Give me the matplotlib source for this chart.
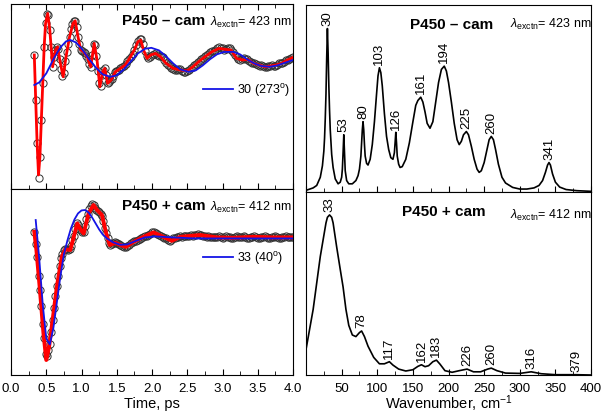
import matplotlib
matplotlib.use("Agg")
import numpy as np
import matplotlib.pyplot as plt
from matplotlib.ticker import MultipleLocator

plt.rcParams['font.family'] = ['Liberation Sans', 'DejaVu Sans']
plt.rcParams['mathtext.fontset'] = 'custom'
plt.rcParams['mathtext.rm'] = 'Liberation Sans'
plt.rcParams['mathtext.it'] = 'Liberation Sans:italic'
plt.rcParams['mathtext.bf'] = 'Liberation Sans:bold'

# sampling grids of the measured traces (early: 20 fs, late: 25 fs)
t_early = [0.33, 0.35, 0.37, 0.39, 0.41, 0.43, 0.45, 0.47, 0.49, 0.51, 0.53, 0.55, 0.57, 0.59,
           0.61, 0.63, 0.65, 0.67, 0.69, 0.71, 0.73, 0.75, 0.77, 0.79, 0.81, 0.83, 0.85, 0.87,
           0.89, 0.91, 0.93, 0.95, 0.97, 0.99, 1.01, 1.03, 1.05, 1.07, 1.09, 1.11, 1.13, 1.15,
           1.17, 1.19, 1.21, 1.23, 1.25, 1.27, 1.29, 1.31, 1.33, 1.35, 1.37, 1.39, 1.41, 1.43,
           1.45, 1.47, 1.49]
t_late = list(np.round(np.arange(1.5, 4.0001, 0.025), 3))

# ---- P450 - cam, time domain ----
s_early_top = [0.42, -1.83, -4.0, -5.75, -4.67, -2.83, -1.0, 0.83, 2.0, 2.45, 2.4, 1.67, 0.8, -0.17,
               0.3, 0.67, 0.8, 0.7, 0.2, -0.3, -0.65, -0.5, 0.1, 0.55, 0.95, 1.33, 1.7, 1.95,
               2.1, 2.13, 1.8, 1.33, 0.95, 0.67, 0.6, 0.58, 0.5, 0.38, 0.2, -0.05, -0.17, 0.4,
               0.95, 0.9, 0.35, -0.4, -1.0, -1.15, -0.6, -0.35, -0.25, -0.6, -1.0, -0.95, -0.85, -0.8,
               -0.65, -0.45, -0.4]
s_late_top = [-0.40, -0.32, -0.25, -0.2, -0.15, -0.05, 0.1, 0.2, 0.3, 0.45, 0.65, 0.9, 1.1, 1.2,
              1.2, 0.95, 0.6, 0.35, 0.25, 0.3, 0.4, 0.48, 0.5, 0.42, 0.35, 0.35, 0.3, 0.15,
              0.0, -0.1, -0.15, -0.22, -0.3, -0.35, -0.35, -0.3, -0.3, -0.4, -0.45, -0.42, -0.4, -0.33,
              -0.25, -0.18, -0.1, -0.02, 0.05, 0.12, 0.2, 0.28, 0.35, 0.4, 0.45, 0.55, 0.6, 0.62,
              0.65, 0.75, 0.8, 0.78, 0.75, 0.68, 0.7, 0.75, 0.75, 0.68, 0.55, 0.42, 0.3, 0.2,
              0.15, 0.2, 0.25, 0.22, 0.2, 0.12, 0.05, 0.02, 0.0, -0.05, -0.1, -0.12, -0.1, -0.15,
              -0.2, -0.2, -0.15, -0.12, -0.1, -0.12, -0.15, -0.08, 0.0, 0.02, 0.0, 0.08, 0.15, 0.18,
              0.2, 0.25, 0.3]

t_fit_top = [0.33, 0.35, 0.37, 0.39, 0.41, 0.43, 0.45, 0.47, 0.49, 0.52, 0.55, 0.59, 0.63, 0.66,
             0.70, 0.74, 0.78, 0.83, 0.88, 0.91, 0.95, 0.99, 1.03, 1.08, 1.13, 1.18, 1.22, 1.26,
             1.30, 1.33, 1.37, 1.42, 1.48, 1.55, 1.62, 1.68, 1.75, 1.80, 1.84, 1.88, 1.93, 1.98,
             2.05, 2.12, 2.20, 2.30, 2.40, 2.50, 2.58, 2.66, 2.75, 2.85, 2.95, 3.05, 3.12, 3.20,
             3.28, 3.36, 3.44, 3.52, 3.60, 3.68, 3.76, 3.84, 3.92, 4.00]
s_fit_top = [0.42, -1.83, -4.0, -5.58, -4.67, -2.83, -1.0, 0.83, 2.0, 2.5, 1.67, -0.17, 0.67, 0.83,
             0.0, -0.67, 0.33, 1.33, 2.0, 2.13, 1.33, 0.67, 0.58, 0.33, -0.17, 1.0, 0.17, -1.17,
             -0.42, -0.25, -1.0, -0.83, -0.42, -0.25, -0.08, 0.25, 0.67, 1.08, 1.17, 0.67, 0.25, 0.42,
             0.5, 0.33, 0.0, -0.25, -0.33, -0.37, -0.17, 0.08, 0.33, 0.58, 0.75, 0.7, 0.67, 0.25,
             0.17, 0.2, 0.0, -0.08, -0.17, -0.13, -0.08, 0.0, 0.17, 0.3]

t_mode_top = [0.33, 0.40, 0.50, 0.60, 0.70, 0.78, 0.84, 0.92, 1.00, 1.10, 1.20, 1.30, 1.41, 1.50,
              1.60, 1.70, 1.80, 1.90, 1.99, 2.10, 2.20, 2.30, 2.40, 2.52, 2.62, 2.72, 2.82, 2.92,
              3.02, 3.15, 3.25, 3.35, 3.45, 3.55, 3.67, 3.78, 3.90, 4.00]
s_mode_top = [-1.08, -0.95, -0.5, 0.2, 0.8, 1.1, 1.17, 1.05, 0.75, 0.25, -0.2, -0.55, -0.67, -0.6,
              -0.3, 0.1, 0.5, 0.73, 0.78, 0.65, 0.35, 0.0, -0.3, -0.42, -0.35, -0.1, 0.2, 0.45,
              0.57, 0.58, 0.45, 0.2, 0.0, -0.13, -0.17, -0.1, 0.05, 0.17]

# ---- P450 + cam, time domain ----
s_early_bot = [0.33, -0.3, -0.95, -1.9, -2.6, -3.4, -4.3, -5.0, -5.8, -5.9, -5.6, -5.3, -4.7, -4.1,
               -3.5, -2.9, -2.4, -1.9, -1.4, -1.0, -0.8, -0.6, -0.55, -0.55, -0.6, -0.55, -0.4, -0.1,
               0.1, 0.45, 0.75, 0.65, 0.45, 0.4, 0.3, 0.3, 0.6, 0.95, 1.2, 1.45, 1.6, 1.7,
               1.65, 1.5, 1.4, 1.35, 1.3, 1.2, 1.1, 0.85, 0.5, 0.25, 0.0, -0.25, -0.35, -0.3,
               -0.25, -0.2, -0.25]
s_late_bot = [-0.25, -0.3, -0.35, -0.4, -0.45, -0.45, -0.4, -0.32, -0.25, -0.2, -0.15, -0.12, -0.1, -0.05,
              0.0, 0.05, 0.1, 0.12, 0.15, 0.22, 0.3, 0.3, 0.25, 0.2, 0.15, 0.1, 0.05, 0.02,
              0.0, -0.08, -0.15, -0.1, 0.0, 0.03, 0.05, 0.08, 0.1, 0.08, 0.1, 0.12, 0.1, 0.12,
              0.15, 0.12, 0.15, 0.18, 0.2, 0.18, 0.15, 0.12, 0.1, 0.08, 0.1, 0.07, 0.05, 0.08,
              0.05, 0.08, 0.1, 0.05, 0.0, 0.05, 0.1, 0.08, 0.05, 0.02, 0.0, 0.05, 0.1, 0.08,
              0.05, 0.08, 0.1, 0.05, 0.0, 0.03, 0.05, 0.08, 0.1, 0.05, 0.0, 0.03, 0.05, 0.08,
              0.1, 0.05, 0.0, 0.03, 0.05, 0.08, 0.1, 0.05, 0.0, 0.03, 0.05, 0.08, 0.1, 0.08,
              0.05, 0.05, 0.05]

t_fit_bot = [0.33, 0.36, 0.41, 0.46, 0.50, 0.54, 0.59, 0.65, 0.72, 0.77, 0.84, 0.89, 0.94, 0.99,
             1.03, 1.10, 1.17, 1.22, 1.29, 1.35, 1.40, 1.48, 1.55, 1.63, 1.74, 1.88, 2.02, 2.16,
             2.28, 2.40, 2.68, 2.92, 3.15, 3.44, 3.72, 4.00]
s_fit_bot = [0.33, -0.58, -2.58, -4.75, -6.08, -5.42, -4.08, -2.42, -0.92, -0.55, -0.58, 0.08, 0.75, 0.42,
             0.25, 1.25, 1.67, 1.42, 1.17, 0.25, -0.33, -0.22, -0.33, -0.42, -0.17, 0.08, 0.3, 0.08,
             -0.12, 0.08, 0.17, 0.05, 0.03, 0.08, 0.05, 0.05]

t_mode_bot = [0.35, 0.40, 0.45, 0.50, 0.55, 0.60, 0.65, 0.70, 0.75, 0.80, 0.85, 0.90, 0.95, 1.00,
              1.05, 1.10, 1.15, 1.20, 1.25, 1.30, 1.36, 1.45, 1.55, 1.65, 1.75, 1.90, 2.05, 2.30,
              2.60, 3.00, 4.00]
s_mode_bot = [0.92, -1.0, -3.3, -5.0, -5.3, -4.5, -3.2, -1.9, -0.8, -0.1, 0.5, 0.95, 1.25, 1.4,
              1.42, 1.3, 1.05, 0.75, 0.45, 0.2, 0.0, -0.2, -0.32, -0.3, -0.15, 0.05, 0.1, 0.05,
              0.0, 0.0, 0.0]

# ---- spectra ----
w_top = [0, 10, 15, 20, 23, 25, 26, 27, 28, 29, 30, 31, 32, 33, 34, 36, 38, 41, 45, 48, 50, 51, 52,
         53, 54, 55, 57, 60, 65, 70, 73, 75, 77, 78, 79, 80, 81, 82, 83, 85, 87, 90, 93, 96, 99,
         101, 103, 105, 107, 110, 113, 116, 119, 122, 124, 125, 126, 127, 128, 130, 132, 135, 140,
         145, 150, 154, 157, 161, 164, 167, 170, 174, 178, 182, 186, 190, 194, 197, 200, 204, 208,
         212, 215, 218, 221, 225, 228, 232, 236, 240, 243, 246, 250, 254, 257, 260, 263, 266, 270,
         275, 280, 290, 300, 310, 320, 327, 332, 336, 339, 341, 343, 346, 350, 356, 365, 380, 400]
a_top = [0.01, 0.025, 0.04, 0.09, 0.16, 0.25, 0.33, 0.45, 0.6, 0.82, 1.0, 0.85, 0.65, 0.5, 0.38,
         0.23, 0.15, 0.08, 0.05, 0.06, 0.09, 0.14, 0.24, 0.35, 0.24, 0.13, 0.07, 0.05, 0.05, 0.07,
         0.1, 0.14, 0.22, 0.3, 0.38, 0.43, 0.38, 0.29, 0.22, 0.175, 0.165, 0.2, 0.29, 0.43, 0.6,
         0.71, 0.76, 0.73, 0.65, 0.48, 0.34, 0.26, 0.21, 0.2, 0.24, 0.3, 0.365, 0.3, 0.22, 0.17,
         0.15, 0.155, 0.2, 0.3, 0.43, 0.53, 0.56, 0.58, 0.55, 0.49, 0.42, 0.39, 0.43, 0.55, 0.67,
         0.75, 0.77, 0.74, 0.67, 0.55, 0.42, 0.32, 0.29, 0.31, 0.35, 0.37, 0.35, 0.28, 0.2, 0.14,
         0.12, 0.13, 0.18, 0.26, 0.32, 0.34, 0.32, 0.26, 0.17, 0.09, 0.055, 0.028, 0.018, 0.018,
         0.025, 0.04, 0.07, 0.12, 0.165, 0.18, 0.165, 0.11, 0.06, 0.03, 0.015, 0.008, 0.004]
peaks_top = [30, 53, 80, 103, 126, 161, 194, 225, 260, 341]
peak_h_top = [1.0, 0.35, 0.43, 0.76, 0.365, 0.58, 0.77, 0.37, 0.34, 0.18]

w_bot = [0, 10, 20, 28, 30, 33, 36, 38, 43, 48, 52, 56, 60, 65, 70, 75, 78, 82, 87, 95, 103, 110, 117,
         122, 130, 140, 150, 157, 162, 167, 172, 178, 183, 188, 195, 205, 215, 226, 235, 245, 255,
         260, 268, 280, 300, 316, 330, 350, 379, 400]
a_bot = [0.16, 0.41, 0.74, 0.95, 0.985, 1.0, 0.985, 0.95, 0.80, 0.66, 0.55, 0.41, 0.31, 0.25, 0.24,
         0.265, 0.275, 0.24, 0.18, 0.11, 0.07, 0.07, 0.083, 0.062, 0.037, 0.025, 0.033, 0.054, 0.064,
         0.052, 0.058, 0.083, 0.093, 0.068, 0.027, 0.017, 0.027, 0.037, 0.02, 0.02, 0.037, 0.043,
         0.027, 0.012, 0.01, 0.02, 0.008, 0.002, 0.002, 0.0]
peaks_bot = [33, 78, 117, 162, 183, 226, 260, 316, 379]
peak_h_bot = [1.0, 0.275, 0.083, 0.064, 0.093, 0.037, 0.043, 0.02, 0.002]

fig = plt.figure(figsize=(6.06, 4.17), dpi=100)
ax_lt = fig.add_axes([0.0182, 0.5468, 0.4653, 0.4436])
ax_lb = fig.add_axes([0.0182, 0.1007, 0.4653, 0.4460])
ax_rt = fig.add_axes([0.5050, 0.5396, 0.4703, 0.4484])
ax_rb = fig.add_axes([0.5050, 0.1007, 0.4703, 0.4388])


def time_panel(ax, sd, tf, sf, tm, sm, lw_fit, label, name, lam, ylim, leg_y, leg_x, top_ticks):
    ax.plot(t_early + t_late, sd, 'o', ms=5.2, mfc='none', mec='#333333', mew=0.7, zorder=2)
    ax.plot(tf, sf, color='red', lw=lw_fit, zorder=3)
    ax.plot(tm, sm, color='#1414e6', lw=1.3, zorder=4, label=label)
    ax.set_xlim(0, 4)
    ax.set_ylim(*ylim)
    ax.set_yticks([])
    ax.xaxis.set_major_locator(MultipleLocator(0.5))
    ax.xaxis.set_minor_locator(MultipleLocator(0.25))
    ax.tick_params(axis='x', which='both', direction='in', top=top_ticks, labelsize=9.5, pad=5.5)
    ax.tick_params(axis='x', which='major', length=4)
    ax.tick_params(axis='x', which='minor', length=3)
    ax.text(0.394, 0.91, name, transform=ax.transAxes, fontsize=11, fontweight='bold',
            ha='left', va='center')
    ax.text(0.706, 0.90, lam, transform=ax.transAxes, fontsize=9, ha='left', va='center')
    ax.legend(loc='center right', bbox_to_anchor=(leg_x, leg_y), frameon=False, fontsize=9,
              handlelength=2.4, handletextpad=0.3, borderpad=0, borderaxespad=0)


time_panel(ax_lt, s_early_top + s_late_top, t_fit_top, s_fit_top, t_mode_top, s_mode_top, 2.0,
           r'30 (273$^{\mathregular{o}}$)', 'P450 \u2013 cam',
           r'$\lambda_{\mathregular{exctn}}$= 423 nm', (-6.28, 2.97), 0.535, 0.99, True)
time_panel(ax_lb, s_early_bot + s_late_bot, t_fit_bot, s_fit_bot, t_mode_bot, s_mode_bot, 2.8,
           r'33 (40$^{\mathregular{o}}$)', 'P450 + cam',
           r'$\lambda_{\mathregular{exctn}}$= 412 nm', (-6.83, 2.47), 0.629, 0.965, False)
ax_lt.tick_params(axis='x', labelbottom=False)
ax_lb.set_xlabel('Time, ps', fontsize=10.5, labelpad=2)


def spec_panel(ax, w, a, peaks, heights, name, lam, ylim, name_pos, lam_pos):
    ax.plot(w, a, color='black', lw=1.2)
    for p, h in zip(peaks, heights):
        ax.annotate(str(p), (p, h), xytext=(0, 2), textcoords='offset points', rotation=90,
                    ha='center', va='bottom', fontsize=9.5)
    ax.set_xlim(0, 400)
    ax.set_ylim(*ylim)
    ax.set_yticks([])
    ax.xaxis.set_major_locator(MultipleLocator(50))
    ax.xaxis.set_minor_locator(MultipleLocator(25))
    ax.tick_params(axis='x', which='both', direction='in', labelsize=9.5, pad=5.5)
    ax.tick_params(axis='x', which='major', length=4)
    ax.tick_params(axis='x', which='minor', length=3)
    ax.text(name_pos[0], name_pos[1], name, transform=ax.transAxes, fontsize=11,
            fontweight='bold', ha='left', va='center')
    ax.text(lam_pos[0], lam_pos[1], lam, transform=ax.transAxes, fontsize=9,
            ha='left', va='center')


spec_panel(ax_rt, w_top, a_top, peaks_top, peak_h_top, 'P450 \u2013 cam',
           r'$\lambda_{\mathregular{exctn}}$= 423 nm', (0, 1.144), (0.365, 0.893), (0.716, 0.898))
spec_panel(ax_rb, w_bot, a_bot, peaks_bot, peak_h_bot, 'P450 + cam',
           r'$\lambda_{\mathregular{exctn}}$= 412 nm', (0, 1.143), (0.337, 0.891), (0.716, 0.874))
ax_rt.tick_params(axis='x', labelbottom=False)
ax_rb.set_xticks([50, 100, 150, 200, 250, 300, 350, 400])
ax_rb.set_xticks([0, 25, 75, 125, 175, 225, 275, 325, 375], minor=True)
ax_rb.set_xlabel('Wavenumber, cm$^{-1}$', fontsize=10.5, labelpad=-1)

fig.savefig('out.png', dpi=100)
